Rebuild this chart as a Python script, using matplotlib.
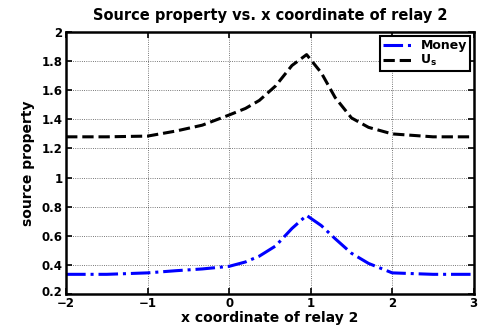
import numpy as np
import matplotlib
matplotlib.use('Agg')
import matplotlib.pyplot as plt
from matplotlib.transforms import ScaledTranslation

plt.rcParams['font.family'] = ['DejaVu Sans']
plt.rcParams['font.weight'] = 'bold'
plt.rcParams['mathtext.default'] = 'bf'

# x position of relay 2 and resulting source properties
x_relay = [-2.0, -1.5, -1.0, -0.65, -0.33, 0.0, 0.2, 0.37, 0.57, 0.77, 0.95,
           1.13, 1.30, 1.50, 1.71, 2.0, 2.5, 3.0]
money = [0.335, 0.335, 0.345, 0.36, 0.372, 0.39, 0.42, 0.46, 0.53, 0.65, 0.74,
         0.67, 0.58, 0.48, 0.41, 0.345, 0.335, 0.335]
u_s = [1.28, 1.28, 1.285, 1.32, 1.36, 1.43, 1.475, 1.53, 1.63, 1.77, 1.845,
       1.72, 1.55, 1.41, 1.345, 1.30, 1.28, 1.28]

fig = plt.figure(figsize=(4.79, 3.27), dpi=100)
ax = fig.add_axes([0.138, 0.101, 0.851, 0.801])

ax.plot(x_relay, money, color='blue', linestyle='-.', linewidth=2.2, label='Money')
ax.plot(x_relay, u_s, color='black', linestyle='--', linewidth=2.2, label='U$_\\mathbf{s}$')

ax.set_xlim(-2, 3)
ax.set_ylim(0.2, 2)
ax.set_xticks([-2, -1, 0, 1, 2, 3])
ax.set_yticks(np.arange(0.2, 2.01, 0.2))
ax.set_yticklabels(['0.2', '0.4', '0.6', '0.8', '1', '1.2', '1.4', '1.6', '1.8', '2'])
ax.grid(True, linestyle=':', color='black', linewidth=0.6, alpha=0.7)
ax.tick_params(direction='in', top=True, right=True, labelsize=8.5, width=1.2, length=4)
ax.tick_params(axis='x', pad=2.5)
ax.tick_params(axis='y', pad=2.5)
for s in ax.spines.values():
    s.set_linewidth(1.8)

# lift the bottom y label a little so it clears the -2 below it
lbl = ax.get_yticklabels()[0]
lbl.set_transform(lbl.get_transform() + ScaledTranslation(0, 2.5 / 72, fig.dpi_scale_trans))

ax.set_title('Source property vs. x coordinate of relay 2', fontsize=10.5, fontweight='bold', pad=9)
ax.set_xlabel('x coordinate of relay 2', fontsize=10, fontweight='bold')
ax.xaxis.set_label_coords(0.5, -0.066)
ax.set_ylabel('source property', fontsize=10, fontweight='bold', labelpad=5)

leg = ax.legend(loc='upper right', fontsize=9, fancybox=False, borderaxespad=0.3,
                handlelength=2.6, borderpad=0.25, labelspacing=0.1, handletextpad=0.4)
leg.get_frame().set_edgecolor('black')
leg.get_frame().set_linewidth(1.5)
leg.get_frame().set_alpha(1)

fig.savefig('out.png', dpi=100)
